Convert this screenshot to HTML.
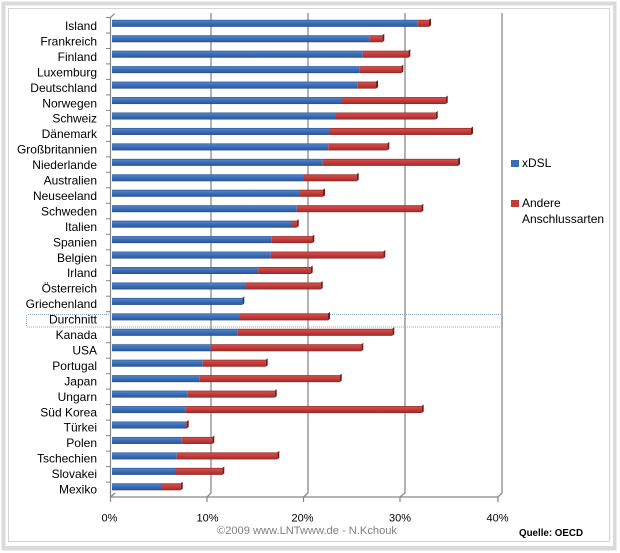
<!DOCTYPE html>
<html>
<head>
<meta charset="utf-8">
<style>
  html,body{margin:0;padding:0;background:#fff;}
  svg{display:block;}
  text{font-family:"Liberation Sans", Arial, sans-serif;}
</style>
</head>
<body>
<svg width="620" height="553" viewBox="0 0 620 553" xmlns="http://www.w3.org/2000/svg">
  <defs>
    <linearGradient id="b" x1="0" y1="0" x2="0" y2="1">
      <stop offset="0" stop-color="#2a5594"/>
      <stop offset="0.18" stop-color="#4d81c9"/>
      <stop offset="0.5" stop-color="#3b6db6"/>
      <stop offset="0.85" stop-color="#2f5ea2"/>
      <stop offset="1" stop-color="#23477f"/>
    </linearGradient>
    <linearGradient id="r" x1="0" y1="0" x2="0" y2="1">
      <stop offset="0" stop-color="#8e2624"/>
      <stop offset="0.18" stop-color="#d24c4a"/>
      <stop offset="0.5" stop-color="#c23c3a"/>
      <stop offset="0.85" stop-color="#aa3130"/>
      <stop offset="1" stop-color="#801e1e"/>
    </linearGradient>
  </defs>

  <!-- frame -->
  <rect x="1.5" y="1.5" width="615" height="549" fill="#dadada"/>
  <rect x="5.5" y="5.5" width="607.5" height="540.5" fill="#ffffff"/>
  <rect x="8.5" y="8.5" width="601" height="533" fill="none" stroke="#d4d4d4" stroke-width="1"/>

  <!-- back gridlines -->
  <g stroke="#8a8a8a" stroke-width="1.3" fill="none">
    <polyline points="207,497 211,493 211,13"/>
    <polyline points="303.5,497 308,493 308,13"/>
    <polyline points="400,497 405,493 405,13"/>
    <polyline points="498,497 502,493 502,13"/>
  </g>
  <!-- axes -->
  <g stroke="#868686" stroke-width="1.2" fill="none">
    <polyline points="114.5,13.5 110.5,17.5 110.5,497 498,497"/>
    <polyline points="110.5,497 115,493"/>
    <line x1="110.5" y1="497" x2="110.5" y2="502"/>
    <line x1="207" y1="497" x2="207" y2="502"/>
    <line x1="303.5" y1="497" x2="303.5" y2="502"/>
    <line x1="400" y1="497" x2="400" y2="502"/>
    <line x1="498" y1="497" x2="498" y2="502"/>
  </g>
  <g stroke="#868686" stroke-width="1">
    <line x1="106" y1="17.5" x2="110.5" y2="17.5"/>
    <line x1="106" y1="33" x2="110.5" y2="33"/>
    <line x1="106" y1="48.5" x2="110.5" y2="48.5"/>
    <line x1="106" y1="63.9" x2="110.5" y2="63.9"/>
    <line x1="106" y1="79.4" x2="110.5" y2="79.4"/>
    <line x1="106" y1="94.9" x2="110.5" y2="94.9"/>
    <line x1="106" y1="110.4" x2="110.5" y2="110.4"/>
    <line x1="106" y1="125.9" x2="110.5" y2="125.9"/>
    <line x1="106" y1="141.4" x2="110.5" y2="141.4"/>
    <line x1="106" y1="156.9" x2="110.5" y2="156.9"/>
    <line x1="106" y1="172.3" x2="110.5" y2="172.3"/>
    <line x1="106" y1="187.8" x2="110.5" y2="187.8"/>
    <line x1="106" y1="203.3" x2="110.5" y2="203.3"/>
    <line x1="106" y1="218.8" x2="110.5" y2="218.8"/>
    <line x1="106" y1="234.3" x2="110.5" y2="234.3"/>
    <line x1="106" y1="249.8" x2="110.5" y2="249.8"/>
    <line x1="106" y1="265.3" x2="110.5" y2="265.3"/>
    <line x1="106" y1="280.7" x2="110.5" y2="280.7"/>
    <line x1="106" y1="296.2" x2="110.5" y2="296.2"/>
    <line x1="106" y1="311.7" x2="110.5" y2="311.7"/>
    <line x1="106" y1="327.2" x2="110.5" y2="327.2"/>
    <line x1="106" y1="342.7" x2="110.5" y2="342.7"/>
    <line x1="106" y1="358.2" x2="110.5" y2="358.2"/>
    <line x1="106" y1="373.7" x2="110.5" y2="373.7"/>
    <line x1="106" y1="389.1" x2="110.5" y2="389.1"/>
    <line x1="106" y1="404.6" x2="110.5" y2="404.6"/>
    <line x1="106" y1="420.1" x2="110.5" y2="420.1"/>
    <line x1="106" y1="435.6" x2="110.5" y2="435.6"/>
    <line x1="106" y1="451.1" x2="110.5" y2="451.1"/>
    <line x1="106" y1="466.6" x2="110.5" y2="466.6"/>
    <line x1="106" y1="482.1" x2="110.5" y2="482.1"/>
  </g>

  <!-- Durchnitt dotted box -->
  <rect x="26.5" y="314.5" width="476" height="12.5" rx="1.5" fill="none" stroke="#8aa3c9" stroke-width="1" stroke-dasharray="1,1"/>

  <!-- bars -->
  <g>
    <g transform="translate(0,19.8)"><rect x="112" y="0" width="305.3" height="7" fill="url(#b)"/><rect x="417.3" y="0" width="11.7" height="7" fill="url(#r)"/><polygon points="429,0 431,-1.5 431,5.5 429,7" fill="#7a1a1a"/></g>
    <g transform="translate(0,35.25)"><rect x="112" y="0" width="257.3" height="7" fill="url(#b)"/><rect x="369.3" y="0" width="13" height="7" fill="url(#r)"/><polygon points="382.3,0 384.3,-1.5 384.3,5.5 382.3,7" fill="#7a1a1a"/></g>
    <g transform="translate(0,50.7)"><rect x="112" y="0" width="250.7" height="7" fill="url(#b)"/><rect x="362.7" y="0" width="45.6" height="7" fill="url(#r)"/><polygon points="408.3,0 410.3,-1.5 410.3,5.5 408.3,7" fill="#7a1a1a"/></g>
    <g transform="translate(0,66.15)"><rect x="112" y="0" width="247.3" height="7" fill="url(#b)"/><rect x="359.3" y="0" width="42" height="7" fill="url(#r)"/><polygon points="401.3,0 403.3,-1.5 403.3,5.5 401.3,7" fill="#7a1a1a"/></g>
    <g transform="translate(0,81.6)"><rect x="112" y="0" width="245.3" height="7" fill="url(#b)"/><rect x="357.3" y="0" width="18.7" height="7" fill="url(#r)"/><polygon points="376,0 378,-1.5 378,5.5 376,7" fill="#7a1a1a"/></g>
    <g transform="translate(0,97.05)"><rect x="112" y="0" width="230" height="7" fill="url(#b)"/><rect x="342" y="0" width="103.7" height="7" fill="url(#r)"/><polygon points="445.7,0 447.7,-1.5 447.7,5.5 445.7,7" fill="#7a1a1a"/></g>
    <g transform="translate(0,112.5)"><rect x="112" y="0" width="224" height="7" fill="url(#b)"/><rect x="336" y="0" width="99.7" height="7" fill="url(#r)"/><polygon points="435.7,0 437.7,-1.5 437.7,5.5 435.7,7" fill="#7a1a1a"/></g>
    <g transform="translate(0,127.95)"><rect x="112" y="0" width="218" height="7" fill="url(#b)"/><rect x="330" y="0" width="141" height="7" fill="url(#r)"/><polygon points="471,0 473,-1.5 473,5.5 471,7" fill="#7a1a1a"/></g>
    <g transform="translate(0,143.4)"><rect x="112" y="0" width="216.3" height="7" fill="url(#b)"/><rect x="328.3" y="0" width="59" height="7" fill="url(#r)"/><polygon points="387.3,0 389.3,-1.5 389.3,5.5 387.3,7" fill="#7a1a1a"/></g>
    <g transform="translate(0,158.85)"><rect x="112" y="0" width="210.7" height="7" fill="url(#b)"/><rect x="322.7" y="0" width="135.3" height="7" fill="url(#r)"/><polygon points="458,0 460,-1.5 460,5.5 458,7" fill="#7a1a1a"/></g>
    <g transform="translate(0,174.3)"><rect x="112" y="0" width="192" height="7" fill="url(#b)"/><rect x="304" y="0" width="52.7" height="7" fill="url(#r)"/><polygon points="356.7,0 358.7,-1.5 358.7,5.5 356.7,7" fill="#7a1a1a"/></g>
    <g transform="translate(0,189.75)"><rect x="112" y="0" width="188" height="7" fill="url(#b)"/><rect x="300" y="0" width="23" height="7" fill="url(#r)"/><polygon points="323,0 325,-1.5 325,5.5 323,7" fill="#7a1a1a"/></g>
    <g transform="translate(0,205.2)"><rect x="112" y="0" width="184.7" height="7" fill="url(#b)"/><rect x="296.7" y="0" width="124.6" height="7" fill="url(#r)"/><polygon points="421.3,0 423.3,-1.5 423.3,5.5 421.3,7" fill="#7a1a1a"/></g>
    <g transform="translate(0,220.65)"><rect x="112" y="0" width="179" height="7" fill="url(#b)"/><rect x="291" y="0" width="5.7" height="7" fill="url(#r)"/><polygon points="296.7,0 298.7,-1.5 298.7,5.5 296.7,7" fill="#7a1a1a"/></g>
    <g transform="translate(0,236.1)"><rect x="112" y="0" width="159.7" height="7" fill="url(#b)"/><rect x="271.7" y="0" width="40.6" height="7" fill="url(#r)"/><polygon points="312.3,0 314.3,-1.5 314.3,5.5 312.3,7" fill="#7a1a1a"/></g>
    <g transform="translate(0,251.55)"><rect x="112" y="0" width="158.7" height="7" fill="url(#b)"/><rect x="270.7" y="0" width="112.6" height="7" fill="url(#r)"/><polygon points="383.3,0 385.3,-1.5 385.3,5.5 383.3,7" fill="#7a1a1a"/></g>
    <g transform="translate(0,267)"><rect x="112" y="0" width="146.3" height="7" fill="url(#b)"/><rect x="258.3" y="0" width="52.4" height="7" fill="url(#r)"/><polygon points="310.7,0 312.7,-1.5 312.7,5.5 310.7,7" fill="#7a1a1a"/></g>
    <g transform="translate(0,282.45)"><rect x="112" y="0" width="134" height="7" fill="url(#b)"/><rect x="246" y="0" width="74.7" height="7" fill="url(#r)"/><polygon points="320.7,0 322.7,-1.5 322.7,5.5 320.7,7" fill="#7a1a1a"/></g>
    <g transform="translate(0,297.9)"><rect x="112" y="0" width="130.3" height="7" fill="url(#b)"/><polygon points="242.3,0 244.3,-1.5 244.3,5.5 242.3,7" fill="#1f3f73"/></g>
    <g transform="translate(0,313.35)"><rect x="112" y="0" width="128" height="7" fill="url(#b)"/><rect x="240" y="0" width="88" height="7" fill="url(#r)"/><polygon points="328,0 330,-1.5 330,5.5 328,7" fill="#7a1a1a"/></g>
    <g transform="translate(0,328.8)"><rect x="112" y="0" width="125.3" height="7" fill="url(#b)"/><rect x="237.3" y="0" width="155" height="7" fill="url(#r)"/><polygon points="392.3,0 394.3,-1.5 394.3,5.5 392.3,7" fill="#7a1a1a"/></g>
    <g transform="translate(0,344.25)"><rect x="112" y="0" width="98.7" height="7" fill="url(#b)"/><rect x="210.7" y="0" width="150.6" height="7" fill="url(#r)"/><polygon points="361.3,0 363.3,-1.5 363.3,5.5 361.3,7" fill="#7a1a1a"/></g>
    <g transform="translate(0,359.7)"><rect x="112" y="0" width="90.7" height="7" fill="url(#b)"/><rect x="202.7" y="0" width="63" height="7" fill="url(#r)"/><polygon points="265.7,0 267.7,-1.5 267.7,5.5 265.7,7" fill="#7a1a1a"/></g>
    <g transform="translate(0,375.15)"><rect x="112" y="0" width="87.3" height="7" fill="url(#b)"/><rect x="199.3" y="0" width="140.4" height="7" fill="url(#r)"/><polygon points="339.7,0 341.7,-1.5 341.7,5.5 339.7,7" fill="#7a1a1a"/></g>
    <g transform="translate(0,390.6)"><rect x="112" y="0" width="75.7" height="7" fill="url(#b)"/><rect x="187.7" y="0" width="87" height="7" fill="url(#r)"/><polygon points="274.7,0 276.7,-1.5 276.7,5.5 274.7,7" fill="#7a1a1a"/></g>
    <g transform="translate(0,406.05)"><rect x="112" y="0" width="73.7" height="7" fill="url(#b)"/><rect x="185.7" y="0" width="236" height="7" fill="url(#r)"/><polygon points="421.7,0 423.7,-1.5 423.7,5.5 421.7,7" fill="#7a1a1a"/></g>
    <g transform="translate(0,421.5)"><rect x="112" y="0" width="73.5" height="7" fill="url(#b)"/><rect x="185.5" y="0" width="1.2" height="7" fill="url(#r)"/><polygon points="186.7,0 188.7,-1.5 188.7,5.5 186.7,7" fill="#7a1a1a"/></g>
    <g transform="translate(0,436.95)"><rect x="112" y="0" width="69.7" height="7" fill="url(#b)"/><rect x="181.7" y="0" width="30.6" height="7" fill="url(#r)"/><polygon points="212.3,0 214.3,-1.5 214.3,5.5 212.3,7" fill="#7a1a1a"/></g>
    <g transform="translate(0,452.4)"><rect x="112" y="0" width="64.7" height="7" fill="url(#b)"/><rect x="176.7" y="0" width="100.6" height="7" fill="url(#r)"/><polygon points="277.3,0 279.3,-1.5 279.3,5.5 277.3,7" fill="#7a1a1a"/></g>
    <g transform="translate(0,467.85)"><rect x="112" y="0" width="63" height="7" fill="url(#b)"/><rect x="175" y="0" width="47.3" height="7" fill="url(#r)"/><polygon points="222.3,0 224.3,-1.5 224.3,5.5 222.3,7" fill="#7a1a1a"/></g>
    <g transform="translate(0,483.3)"><rect x="112" y="0" width="49" height="7" fill="url(#b)"/><rect x="161" y="0" width="19.7" height="7" fill="url(#r)"/><polygon points="180.7,0 182.7,-1.5 182.7,5.5 180.7,7" fill="#7a1a1a"/></g>
  </g>

  <!-- category labels -->
  <g font-size="12" fill="#000" text-anchor="end">
    <text x="97" y="30">Island</text>
    <text x="97" y="45.45">Frankreich</text>
    <text x="97" y="60.9">Finland</text>
    <text x="97" y="76.35">Luxemburg</text>
    <text x="97" y="91.8">Deutschland</text>
    <text x="97" y="107.25">Norwegen</text>
    <text x="97" y="122.7">Schweiz</text>
    <text x="97" y="138.15">Dänemark</text>
    <text x="97" y="153.6">Großbritannien</text>
    <text x="97" y="169.05">Niederlande</text>
    <text x="97" y="184.5">Australien</text>
    <text x="97" y="199.95">Neuseeland</text>
    <text x="97" y="215.4">Schweden</text>
    <text x="97" y="230.85">Italien</text>
    <text x="97" y="246.3">Spanien</text>
    <text x="97" y="261.75">Belgien</text>
    <text x="97" y="277.2">Irland</text>
    <text x="97" y="292.65">Österreich</text>
    <text x="97" y="308.1">Griechenland</text>
    <text x="97" y="323.55">Durchnitt</text>
    <text x="97" y="339">Kanada</text>
    <text x="97" y="354.45">USA</text>
    <text x="97" y="369.9">Portugal</text>
    <text x="97" y="385.35">Japan</text>
    <text x="97" y="400.8">Ungarn</text>
    <text x="97" y="416.25">Süd Korea</text>
    <text x="97" y="431.7">Türkei</text>
    <text x="97" y="447.15">Polen</text>
    <text x="97" y="462.6">Tschechien</text>
    <text x="97" y="478.05">Slovakei</text>
    <text x="97" y="493.5">Mexiko</text>
  </g>

  <!-- x axis labels -->
  <g font-size="11" fill="#000" text-anchor="middle">
    <text x="109.5" y="521.5">0%</text>
    <text x="207.5" y="521.5">10%</text>
    <text x="302.5" y="521.5">20%</text>
    <text x="400" y="521.5">30%</text>
    <text x="497.5" y="521.5">40%</text>
  </g>

  <!-- legend -->
  <rect x="511" y="160" width="8" height="7" fill="#3b6db6"/>
  <rect x="511" y="200" width="8" height="7" fill="#c23c3a"/>
  <g font-size="12" fill="#000">
    <text x="522" y="167">xDSL</text>
    <text x="522" y="207">Andere</text>
    <text x="522" y="223">Anschlussarten</text>
  </g>

  <!-- footer -->
  <text x="217" y="534" font-size="11" fill="#808080" textLength="180" lengthAdjust="spacingAndGlyphs">©2009 www.LNTwww.de - N.Kchouk</text>
  <text x="519" y="536" font-size="10.5" font-weight="bold" fill="#000" textLength="64" lengthAdjust="spacingAndGlyphs">Quelle: OECD</text>
</svg>
</body>
</html>
